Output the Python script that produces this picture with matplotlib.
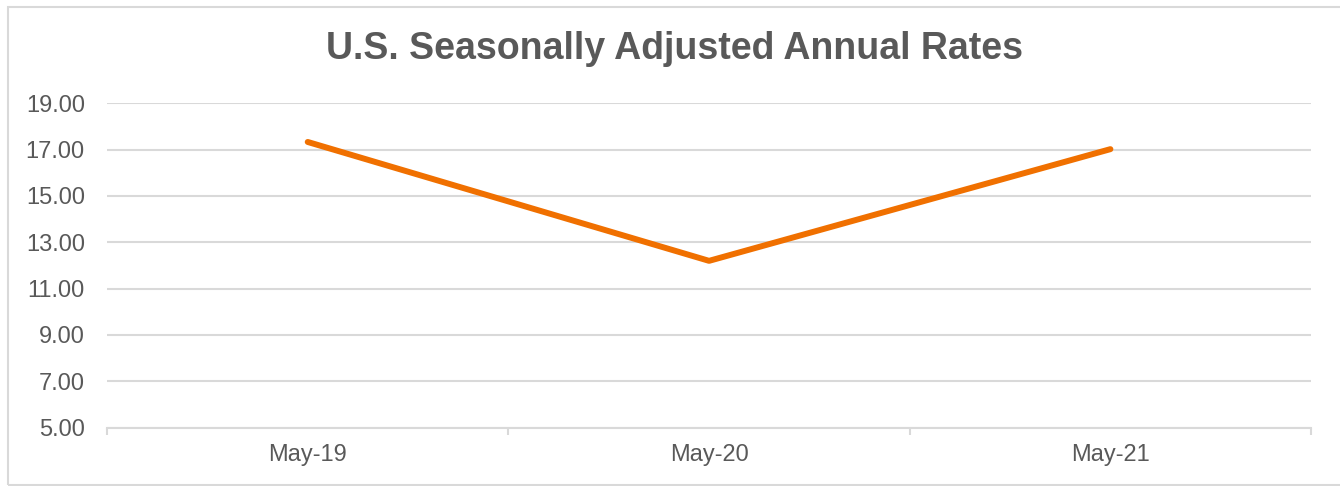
import matplotlib.pyplot as plt
from matplotlib.patches import Rectangle

months = ["May-19", "May-20", "May-21"]
rates = [17.33, 12.2, 17.02]
y_ticks = [5, 7, 9, 11, 13, 15, 17, 19]

plt.rcParams["font.family"] = ["Liberation Sans", "DejaVu Sans"]

fig = plt.figure(figsize=(13.4, 4.86), dpi=100)
ax = fig.add_axes([0.0799, 0.12, 0.8985, 0.6675])

# light frame round the chart area
fig.patches.append(Rectangle((8 / 1340, 1 / 486), 1.1, 478 / 486, transform=fig.transFigure,
                             fill=False, edgecolor="#d9d9d9", linewidth=1.5))

x = list(range(len(months)))
ax.plot(x, rates, color="#f07000", linewidth=4.3, solid_capstyle="round", zorder=3)

ax.set_xlim(-0.5, len(months) - 0.5)
ax.set_ylim(5, 19)
ax.set_yticks(y_ticks)
ax.set_yticklabels([f"{v:.2f}" for v in y_ticks])
ax.set_xticks(x)
ax.set_xticklabels(months)
ax.set_xticks([i - 0.5 for i in range(len(months) + 1)], minor=True)

ax.grid(axis="y", color="#d9d9d9", linewidth=1.5)
ax.set_axisbelow(True)
for side in ["top", "right", "left"]:
    ax.spines[side].set_visible(False)
ax.spines["bottom"].set_color("#d9d9d9")
ax.spines["bottom"].set_linewidth(1.5)

ax.tick_params(axis="y", length=0, pad=16, labelsize=17, labelcolor="#595959")
ax.tick_params(axis="x", which="major", length=0, pad=12, labelsize=17, labelcolor="#595959")
ax.tick_params(axis="x", which="minor", length=5, width=1.5, color="#d9d9d9")

fig.text(675 / 1340, 1 - 49 / 486, "U.S. Seasonally Adjusted Annual Rates", ha="center", va="center",
         fontsize=27, fontweight="bold", color="#595959")

fig.savefig("out.png", dpi=100)
